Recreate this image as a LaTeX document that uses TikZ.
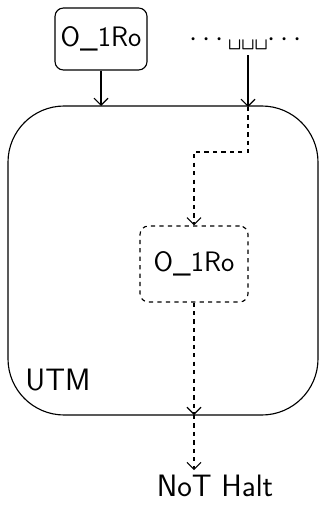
\documentclass[tikz,border=0pt]{standalone}
\usepackage{amsmath,amssymb}
\usepackage{tikz}
\usetikzlibrary{arrows.meta,positioning,calc}

\tikzset{
  tapebox/.style={draw, thick, rounded corners=6pt, minimum width=2.3cm, minimum height=1.55cm, font=\sffamily\fontsize{20}{24}\selectfont},
  simbox/.style={tapebox, dashed, minimum width=2.7cm, minimum height=1.9cm},
  flow/.style={-{Straight Barb[length=5pt]}, thick},
}

\begin{document}
\begin{tikzpicture}[x=0.025cm, y=-0.025cm]
\useasboundingbox (0,0) rectangle (329,505);
% the machine
\draw[thick, rounded corners=40] (8,106) rectangle (318,415);
\node[font=\sffamily\fontsize{22}{26}\selectfont] (utm) at (58,380) {UTM};
% input program and tape
\node[tapebox] (prog) at (101,39) {O\_1Ro};
\node[font=\sffamily\fontsize{20}{24}\selectfont] (tape) at (248,42) {$\cdots$\textvisiblespace\textvisiblespace\textvisiblespace$\cdots$};
\coordinate (top) at (prog.south |- 0,106);
\coordinate (tin) at (248,107);
\coordinate (bend) at (248,152);
\draw[flow] (prog) -- (top);
\draw[flow] (tape) -- (tin);
% simulated copy
\node[simbox] (sim) at (194,264) {O\_1Ro};
\draw[flow, dashed] (tin) -- (bend) -| (sim.north);
\coordinate (bot) at (sim.south |- 0,415);
\node[font=\sffamily\fontsize{22}{26}\selectfont] (halt) at (215,486) {NoT Halt};
\draw[flow, dashed] (sim) -- (bot);
\draw[flow, dashed] (bot) -- (halt.north -| bot);
\end{tikzpicture}
\end{document}
